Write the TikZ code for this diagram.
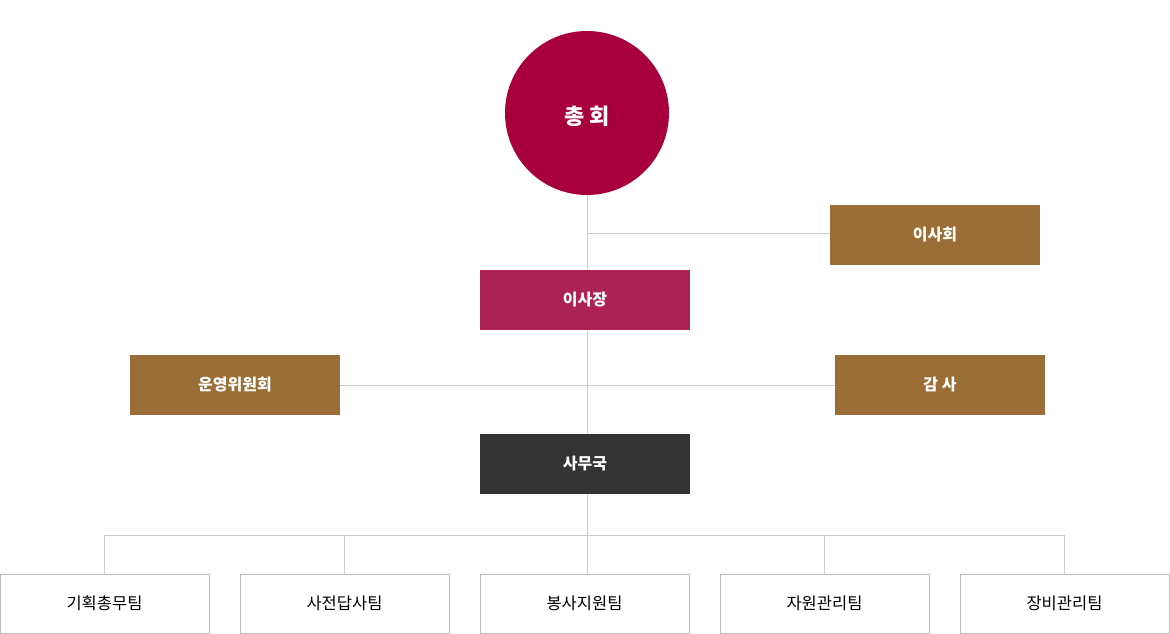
\documentclass[tikz,border=0pt]{standalone}
\usepackage{fontspec}
\setmainfont{Noto Sans CJK KR}
\definecolor{assembly}{HTML}{A8003C}
\definecolor{chair}{HTML}{AD2254}
\definecolor{bronze}{HTML}{9B6E37}
\definecolor{office}{HTML}{333333}
\definecolor{wire}{HTML}{CCCCCC}
\definecolor{frame}{HTML}{BDBDBD}
\begin{document}
\begin{tikzpicture}[x=1pt,y=-1pt]
          \tikzset{board/.style={minimum width=210pt,minimum height=60pt,inner sep=0pt,text=white,font=\fontsize{16}{19}\bfseries},
                   team/.style={draw=frame,line width=0.8pt,minimum width=209pt,minimum height=59pt,inner sep=0pt,font=\fontsize{16.5}{20}\selectfont},
                   link/.style={draw=wire,line width=0.8pt}}
          \useasboundingbox (0,0) rectangle (1170,634);
          \node[circle,fill=assembly,minimum size=164pt,inner sep=0pt,text=white,font=\fontsize{22}{26}\bfseries] (gm) at (587,113) {\raisebox{-3pt}[\height][\depth]{총 회}};
          \node[board,fill=bronze] (bod) at (935,235) {이사회};
          \node[board,fill=chair] (pres) at (585,300) {이사장};
          \node[board,fill=bronze] (exec) at (235,385) {운영위원회};
          \node[board,fill=bronze] (audit) at (940,385) {감 사};
          \node[board,fill=office] (sec) at (585,464) {사무국};
          \node[team] (t1) at (104.5,603.5) {기획총무팀};
          \node[team] (t2) at (344.5,603.5) {사전답사팀};
          \node[team] (t3) at (584.5,603.5) {봉사지원팀};
          \node[team] (t4) at (824.5,603.5) {자원관리팀};
          \node[team] (t5) at (1064.5,603.5) {장비관리팀};
          \coordinate (bus) at (587,535);
          \coordinate (tap) at (587,233.5);
          \path[link] (gm.south) -- (gm.south |- pres.north);
          \path[link] (tap) -- (bod.west |- tap);
          \path[link] (gm.south |- pres.south) -- (gm.south |- sec.north);
          \path[link] (exec.east) -- (audit.west);
          \path[link] (gm.south |- sec.south) -- (bus);
          \path[link] (t1.north |- bus) -- (t5.north |- bus);
          \path[link] (bus) -- (bus |- t3.north);
          \foreach \t in {t1,t2,t4,t5}
            \path[link] (\t.north |- bus) -- (\t.north);
        \end{tikzpicture}
\end{document}
